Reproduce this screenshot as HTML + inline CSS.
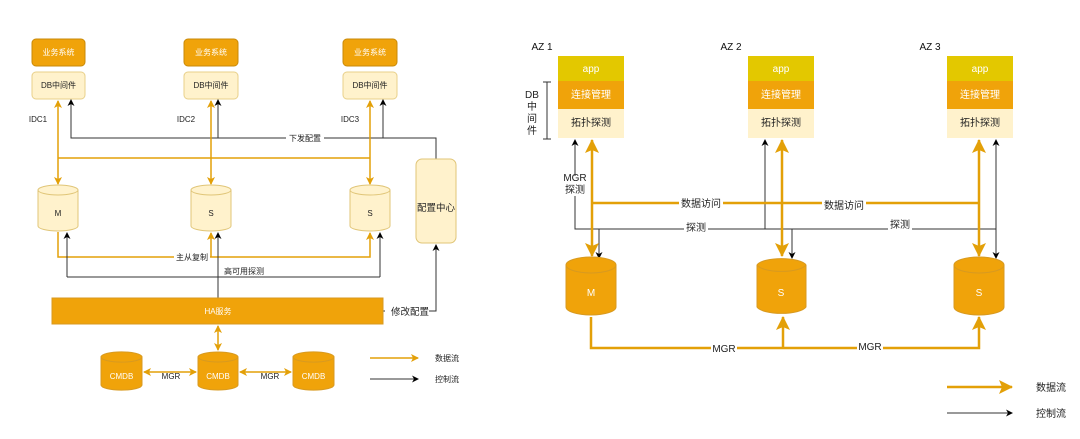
<!DOCTYPE html>
<html><head><meta charset="utf-8"><style>
html,body{margin:0;padding:0;background:#fff;}
svg{display:block;font-family:"Liberation Sans","Noto Sans CJK SC",sans-serif;}
</style></head><body>
<svg width="1080" height="439" viewBox="0 0 1080 439" xmlns="http://www.w3.org/2000/svg">
<defs>
<marker id="ao" markerWidth="8" markerHeight="8" refX="7" refY="4" orient="auto" markerUnits="userSpaceOnUse"><path d="M0,0 L8,4 L0,8 L2,4 z" fill="#e3a008"/></marker>
<marker id="aos" markerWidth="8" markerHeight="8" refX="1" refY="4" orient="auto" markerUnits="userSpaceOnUse"><path d="M8,0 L0,4 L8,8 L6,4 z" fill="#e3a008"/></marker>
<marker id="ab" markerWidth="7" markerHeight="7" refX="6" refY="3.5" orient="auto" markerUnits="userSpaceOnUse"><path d="M0,0 L7,3.5 L0,7 L2,3.5 z" fill="#000"/></marker>
<marker id="aO" markerWidth="14" markerHeight="14" refX="13" refY="7" orient="auto" markerUnits="userSpaceOnUse"><path d="M0,0 L14,7 L0,14 L3,7 z" fill="#e3a008"/></marker>
<marker id="aOs" markerWidth="14" markerHeight="14" refX="1" refY="7" orient="auto" markerUnits="userSpaceOnUse"><path d="M14,0 L0,7 L14,14 L11,7 z" fill="#e3a008"/></marker>
</defs>
<g font-size="8" text-anchor="middle">
<!-- left: business systems -->
<g fill="#f0a30a" stroke="#c98a08">
<rect x="32" y="39" width="53" height="27" rx="4"/>
<rect x="184" y="39" width="54" height="27" rx="4"/>
<rect x="343" y="39" width="54" height="27" rx="4"/>
</g>
<g fill="#fff">
<text x="58.5" y="55">业务系统</text><text x="211" y="55">业务系统</text><text x="370" y="55">业务系统</text>
</g>
<g fill="#fff2cc" stroke="#e8d08a">
<rect x="32" y="72" width="53" height="27" rx="4"/>
<rect x="184" y="72" width="54" height="27" rx="4"/>
<rect x="343" y="72" width="54" height="27" rx="4"/>
</g>
<g fill="#222"><text x="58.5" y="88">DB中间件</text><text x="211" y="88">DB中间件</text><text x="370" y="88">DB中间件</text>
<text x="38" y="122">IDC1</text><text x="186" y="122">IDC2</text><text x="350" y="122">IDC3</text></g>
<!-- black config lines -->
<g stroke="#333" fill="none" stroke-width="1">
<path d="M436,159 V138 H71 V100" marker-end="url(#ab)"/>
<path d="M218,138 V100" marker-end="url(#ab)"/>
<path d="M383,138 V100" marker-end="url(#ab)"/>
</g>
<rect x="286" y="133" width="38" height="10" fill="#fff"/>
<text x="305" y="141" fill="#222">下发配置</text>
<!-- orange data lines -->
<g stroke="#e3a008" fill="none" stroke-width="1.5">
<path d="M58,101 V184" marker-start="url(#aos)" marker-end="url(#ao)"/>
<path d="M211,101 V184" marker-start="url(#aos)" marker-end="url(#ao)"/>
<path d="M370,101 V184" marker-start="url(#aos)" marker-end="url(#ao)"/>
<path d="M58,158 H370"/>
<path d="M58,232 V257 H370 V233" marker-end="url(#ao)"/>
<path d="M211,257 V233" marker-end="url(#ao)"/>
</g>
<!-- cylinders light -->
<g fill="#fff2cc" stroke="#e0c577">
<path d="M38,190 v36 a20,5 0 0 0 40,0 v-36 a20,5 0 0 0 -40,0 a20,5 0 0 0 40,0"/>
<path d="M191,190 v36 a20,5 0 0 0 40,0 v-36 a20,5 0 0 0 -40,0 a20,5 0 0 0 40,0"/>
<path d="M350,190 v36 a20,5 0 0 0 40,0 v-36 a20,5 0 0 0 -40,0 a20,5 0 0 0 40,0"/>
</g>
<g fill="#222"><text x="58" y="216">M</text><text x="211" y="216">S</text><text x="370" y="216">S</text></g>
<rect x="416" y="159" width="40" height="84" rx="6" fill="#fff2cc" stroke="#e0c577"/>
<text x="436" y="211" font-size="9.5" fill="#222">配置中心</text>
<!-- black HA probe -->
<g stroke="#333" fill="none">
<path d="M218,298 V233" marker-end="url(#ab)"/>
<path d="M67,277 H380" />
<path d="M67,277 V233" marker-end="url(#ab)"/>
<path d="M380,277 V233" marker-end="url(#ab)"/>
<path d="M383,311 H436 V245" marker-end="url(#ab)"/>
</g>
<rect x="174" y="252" width="36" height="10" fill="#fff"/>
<text x="192" y="260" fill="#222">主从复制</text>
<text x="244" y="274" fill="#222">高可用探测</text>
<rect x="52" y="298" width="331" height="26" fill="#f0a30a" stroke="#d89a20"/>
<text x="218" y="314" fill="#fff">HA服务</text>
<rect x="385" y="305" width="44" height="12" fill="#fff"/>
<text x="410" y="315" font-size="9.5" fill="#222">修改配置</text>
<g stroke="#e3a008" fill="none" stroke-width="1.5">
<path d="M218,326 V350" marker-start="url(#aos)" marker-end="url(#ao)"/>
<path d="M144,372 H196" marker-start="url(#aos)" marker-end="url(#ao)"/>
<path d="M240,372 H291" marker-start="url(#aos)" marker-end="url(#ao)"/>
<path d="M370,358 H418" marker-end="url(#ao)"/>
</g>
<path d="M370,379 H418" stroke="#333" marker-end="url(#ab)"/>
<text x="447" y="361" fill="#222">数据流</text><text x="447" y="382" fill="#222">控制流</text>
<g fill="#f0a30a" stroke="#d89a20">
<path d="M101,357 v28 a20,5 0 0 0 41,0 v-28 a20,5 0 0 0 -41,0 a20,5 0 0 0 41,0"/>
<path d="M198,357 v28 a20,5 0 0 0 40,0 v-28 a20,5 0 0 0 -40,0 a20,5 0 0 0 40,0"/>
<path d="M293,357 v28 a20,5 0 0 0 41,0 v-28 a20,5 0 0 0 -41,0 a20,5 0 0 0 41,0"/>
</g>
<g fill="#fff"><text x="121.5" y="379">CMDB</text><text x="218" y="379">CMDB</text><text x="313.5" y="379">CMDB</text></g>
<g fill="#222"><text x="171" y="379">MGR</text><text x="270" y="379">MGR</text></g>

<!-- right diagram -->
<g font-size="10" fill="#111"><text x="542" y="50">AZ 1</text><text x="731" y="50">AZ 2</text><text x="930" y="50">AZ 3</text></g>
<g>
<rect x="558" y="56" width="66" height="25" fill="#e3c800"/><rect x="558" y="81" width="66" height="28" fill="#f0a30a"/><rect x="558" y="109" width="66" height="29" fill="#fff2cc"/>
<rect x="748" y="56" width="66" height="25" fill="#e3c800"/><rect x="748" y="81" width="66" height="28" fill="#f0a30a"/><rect x="748" y="109" width="66" height="29" fill="#fff2cc"/>
<rect x="947" y="56" width="66" height="25" fill="#e3c800"/><rect x="947" y="81" width="66" height="28" fill="#f0a30a"/><rect x="947" y="109" width="66" height="29" fill="#fff2cc"/>
</g>
<g font-size="10" fill="#fff"><text x="591" y="72">app</text><text x="781" y="72">app</text><text x="980" y="72">app</text>
<text x="591" y="98">连接管理</text><text x="781" y="98">连接管理</text><text x="980" y="98">连接管理</text></g>
<g font-size="10" fill="#222"><text x="591" y="126">拓扑探测</text><text x="781" y="126">拓扑探测</text><text x="980" y="126">拓扑探测</text></g>
<path d="M543,82 H551 M547,82 V139 M543,139 H551" stroke="#333" fill="none"/>
<g font-size="10" fill="#222"><text x="532" y="98">DB</text><text x="532" y="110">中</text><text x="532" y="122">间</text><text x="532" y="134">件</text>
<text x="575" y="181">MGR</text><text x="575" y="193">探测</text></g>
<!-- black probes -->
<g stroke="#333" fill="none">
<path d="M575,176 V140" marker-end="url(#ab)"/>
<path d="M575,196 V229 H996"/>
<path d="M765,229 V140" marker-end="url(#ab)"/>
<path d="M996,229 V140" marker-end="url(#ab)"/>
<path d="M599,229 V258" marker-end="url(#ab)"/>
<path d="M792,229 V258" marker-end="url(#ab)"/>
<path d="M996,229 V258" marker-end="url(#ab)"/>
</g>
<!-- orange data -->
<g stroke="#e3a008" fill="none" stroke-width="2.5">
<path d="M592,140 V256" marker-start="url(#aOs)" marker-end="url(#aO)"/>
<path d="M782,140 V256" marker-start="url(#aOs)" marker-end="url(#aO)"/>
<path d="M979,140 V256" marker-start="url(#aOs)" marker-end="url(#aO)"/>
<path d="M592,203 H979"/>
<path d="M591,317 V348 H979 V317" marker-end="url(#aO)"/>
<path d="M783,348 V317" marker-end="url(#aO)"/>
<path d="M947,387 H1012" marker-end="url(#aO)"/>
</g>
<path d="M947,413 H1012" stroke="#333" marker-end="url(#ab)"/>
<g font-size="10" fill="#222">
<rect x="679" y="197" width="44" height="12" fill="#fff"/><text x="701" y="207">数据访问</text>
<rect x="822" y="197" width="44" height="12" fill="#fff"/><text x="844" y="209">数据访问</text>
<rect x="684" y="223" width="24" height="12" fill="#fff"/><text x="696" y="231">探测</text>
<rect x="888" y="219" width="24" height="12" fill="#fff"/><text x="900" y="228">探测</text>
<rect x="711" y="342" width="26" height="12" fill="#fff"/><text x="724" y="352">MGR</text>
<rect x="857" y="340" width="26" height="12" fill="#fff"/><text x="870" y="350">MGR</text>
<text x="1051" y="391">数据流</text><text x="1051" y="417">控制流</text>
</g>
<g fill="#f0a30a" stroke="#d89a20">
<path d="M566,265 v42 a25,8 0 0 0 50,0 v-42 a25,8 0 0 0 -50,0 a25,8 0 0 0 50,0"/>
<path d="M757,265 v42 a25,8 0 0 0 49,0 v-42 a25,8 0 0 0 -49,0 a25,8 0 0 0 49,0"/>
<path d="M954,265 v42 a25,8 0 0 0 50,0 v-42 a25,8 0 0 0 -50,0 a25,8 0 0 0 50,0"/>
</g>
<g font-size="10" fill="#fff"><text x="591" y="296">M</text><text x="781" y="296">S</text><text x="979" y="296">S</text></g>
</g>
</svg>
</body></html>
